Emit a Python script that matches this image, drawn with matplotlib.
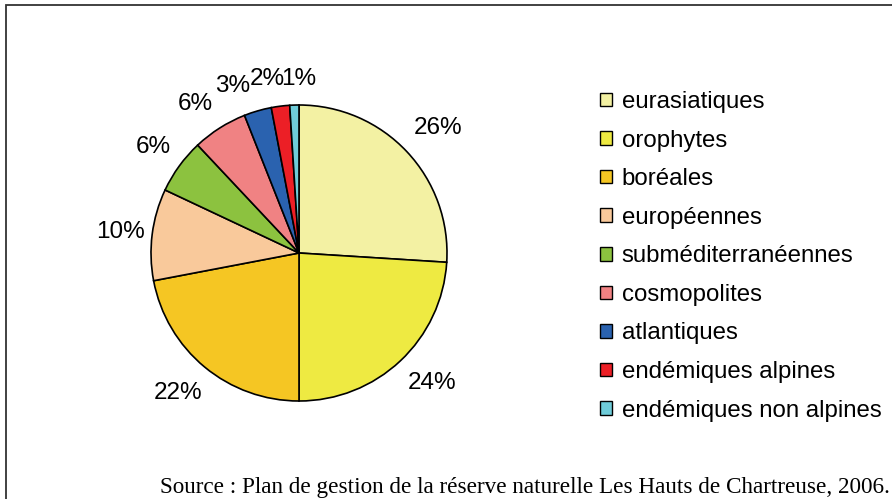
import matplotlib
matplotlib.use("Agg")
import matplotlib.pyplot as plt
from matplotlib.patches import Rectangle, Patch

# data
categories = ["eurasiatiques", "orophytes", "boréales", "européennes",
              "subméditerranéennes", "cosmopolites", "atlantiques",
              "endémiques alpines", "endémiques non alpines"]
shares = [26, 24, 22, 10, 6, 6, 3, 2, 1]
colors = ["#F3F1A3", "#EEEA42", "#F5C623", "#F9C99B", "#8CC23F",
          "#F08283", "#2A62AF", "#EC1F26", "#6FCCD9"]
source = "Source : Plan de gestion de la réserve naturelle Les Hauts de Chartreuse, 2006."

# where the percentage labels sit (pixels from top-left), like Excel's best fit
label_px = [(438, 128), (432, 383), (178, 393), (121, 232), (153, 147),
            (195, 104), (233, 86), (267, 79), (299, 79)]

plt.rcParams["font.family"] = ["Liberation Sans", "DejaVu Sans"]

W, H = 892, 499
fig = plt.figure(figsize=(W / 100, H / 100), dpi=100, facecolor="white")

# outer frame (right and bottom edges run off the picture)
fig.patches.append(Rectangle((6 / W, -0.05), 1.2, 1 - 5 / H + 0.05,
                             transform=fig.transFigure, fill=False,
                             edgecolor="#333333", linewidth=1.3))

# pie: centre (299, 253), radius ~148 px
cx, cy, r = 299, 253, 148
ax = fig.add_axes([(cx - r) / W, (H - cy - r) / H, 2 * r / W, 2 * r / H])
wedges, texts, autotexts = ax.pie(
    shares, colors=colors, startangle=90, counterclock=False,
    autopct="%d%%", pctdistance=1.23,
    wedgeprops=dict(edgecolor="black", linewidth=1.2),
    textprops=dict(fontsize=17.5, color="black"))
for t, (px, py) in zip(autotexts, label_px):
    t.set_position(((px - cx) / r, -(py - cy) / r))
    t.set_ha("center")
    t.set_va("center")
ax.set_aspect("equal")
ax.set_xlim(-1, 1)
ax.set_ylim(-1, 1)

handles = [Patch(facecolor=c, edgecolor="black", linewidth=1.0) for c in colors]
fig.legend(handles, categories, loc="upper left",
           bbox_to_anchor=(600 / W, 1 - 91 / H), frameon=False,
           fontsize=17.3, handlelength=0.5, handleheight=0.5,
           handletextpad=0.4, labelspacing=0.69, borderaxespad=0,
           borderpad=0)

fig.text(160 / W, 1 - 493 / H, source, family="Liberation Serif",
         fontsize=16.7, va="baseline", ha="left")

fig.savefig("out.png", dpi=100, facecolor="white")
